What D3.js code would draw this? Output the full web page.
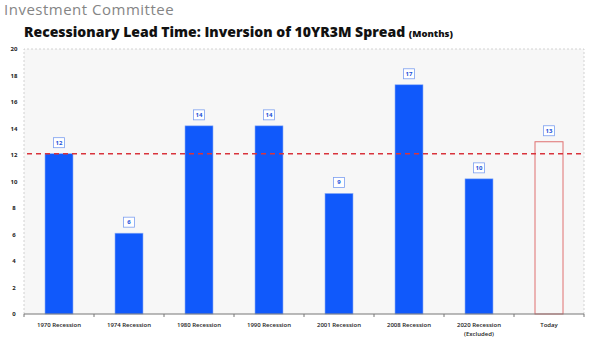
<!DOCTYPE html>
<html>
<head>
<meta charset="utf-8">
<script src="https://cdn.jsdelivr.net/npm/d3@7/dist/d3.min.js"></script>
<style>
  body { margin: 0; background: #fff; }
  svg { display: block; }
</style>
</head>
<body>
<svg id="chart" width="595" height="353"></svg>
<script>
// chart data
var categories = ["1970 Recession", "1974 Recession", "1980 Recession", "1990 Recession",
                  "2001 Recession", "2008 Recession", "2020 Recession\n(Excluded)", "Today"];
var leadMonths = [12.1, 6.1, 14.2, 14.2, 9.1, 17.3, 10.2, 13.0];
var boxLabels = ["12", "6", "14", "14", "9", "17", "10", "13"];
var yTicks = [0, 2, 4, 6, 8, 10, 12, 14, 16, 18, 20];
var averageLine = 12.1;

var svg = d3.select("#chart");
var plot = { left: 24, right: 584, top: 49, bottom: 314 };

// headers
svg.append("text")
    .attr("x", 4).attr("y", 15)
    .attr("font-family", "Open Sans")
    .attr("font-size", 15)
    .attr("letter-spacing", 0.5)
    .attr("fill", "#858585")
    .text("Investment Committee");

var title = svg.append("text")
    .attr("x", 24).attr("y", 37)
    .attr("font-family", "Open Sans")
    .attr("font-weight", 800)
    .attr("font-size", 14)
    .attr("fill", "#111");
title.append("tspan").text("Recessionary Lead Time: Inversion of 10YR3M Spread ");
title.append("tspan").attr("font-size", 9.5).text("(Months)");

var x = d3.scaleBand()
    .domain(categories)
    .range([plot.left, plot.right])
    .paddingInner(0.6)
    .paddingOuter(0.3);

var y = d3.scaleLinear()
    .domain([0, 20])
    .range([plot.bottom, plot.top]);

// plot background + dashed frame
svg.append("rect")
    .attr("x", plot.left).attr("y", plot.top)
    .attr("width", plot.right - plot.left)
    .attr("height", plot.bottom - plot.top)
    .attr("fill", "#f7f7f7");
svg.append("path")
    .attr("d", "M" + plot.left + "," + plot.bottom + "V" + plot.top + "H" + plot.right + "V" + plot.bottom)
    .attr("fill", "none")
    .attr("stroke", "#c8c8c8")
    .attr("stroke-width", 0.8)
    .attr("stroke-dasharray", "2,2");

// y axis labels
svg.append("g").selectAll("text")
    .data(yTicks)
    .join("text")
    .attr("x", 14)
    .attr("y", function(d) { return y(d) + 2; })
    .attr("text-anchor", "middle")
    .attr("font-family", "Open Sans")
    .attr("font-weight", 700)
    .attr("font-size", 6)
    .attr("fill", "#222")
    .text(function(d) { return d; });

// bars
var normal = categories.slice(0, 7);
svg.append("g").selectAll("rect")
    .data(categories)
    .join("rect")
    .attr("x", function(d) { return x(d); })
    .attr("y", function(d, i) { return y(leadMonths[i]); })
    .attr("width", x.bandwidth())
    .attr("height", function(d, i) { return y(0) - y(leadMonths[i]); })
    .attr("fill", function(d) { return normal.indexOf(d) >= 0 ? "#1059fb" : "none"; })
    .attr("stroke", function(d) { return normal.indexOf(d) >= 0 ? "#8fb0f5" : "#e07070"; })
    .attr("stroke-width", function(d) { return normal.indexOf(d) >= 0 ? 0.6 : 1; });

// average dashed line
svg.append("line")
    .attr("x1", plot.left + 3).attr("x2", plot.right - 3)
    .attr("y1", y(averageLine)).attr("y2", y(averageLine))
    .attr("stroke", "#d9343c")
    .attr("stroke-width", 1.4)
    .attr("stroke-dasharray", "5,4");

// value boxes
var labels = svg.append("g").selectAll("g")
    .data(categories)
    .join("g")
    .attr("transform", function(d, i) {
        return "translate(" + (x(d) + x.bandwidth() / 2) + "," + (y(leadMonths[i]) - 11) + ")";
    });
labels.append("rect")
    .attr("x", -5.5).attr("y", -5)
    .attr("width", 11).attr("height", 10)
    .attr("fill", "#fff")
    .attr("stroke", "#7c9ff0")
    .attr("stroke-width", 0.8);
labels.append("text")
    .attr("y", 2)
    .attr("text-anchor", "middle")
    .attr("font-family", "Open Sans")
    .attr("font-weight", 700)
    .attr("font-size", 6)
    .attr("fill", "#1a4fd8")
    .text(function(d, i) { return boxLabels[i]; });

// x axis
var xAxis = svg.append("g")
    .attr("transform", "translate(0," + plot.bottom + ")");
xAxis.append("line")
    .attr("x1", plot.left).attr("x2", plot.right)
    .attr("stroke", "#777").attr("stroke-width", 1);
var tickPos = d3.range(categories.length + 1).map(function(i) { return plot.left + i * x.step(); });
xAxis.selectAll(".tick")
    .data(tickPos)
    .join("line")
    .attr("class", "tick")
    .attr("x1", function(d) { return d; }).attr("x2", function(d) { return d; })
    .attr("y1", 0).attr("y2", 3)
    .attr("stroke", "#777");

xAxis.selectAll(".cat")
    .data(categories)
    .join("text")
    .attr("class", "cat")
    .attr("x", function(d) { return x(d) + x.bandwidth() / 2; })
    .attr("y", 13)
    .attr("text-anchor", "middle")
    .attr("font-family", "Open Sans")
    .attr("font-weight", 600)
    .attr("font-size", 6)
    .attr("fill", "#222")
    .each(function(d) {
        var t = d3.select(this);
        d.split("\n").forEach(function(part, k) {
            t.append("tspan")
                .attr("x", x(d) + x.bandwidth() / 2)
                .attr("dy", k === 0 ? 0 : 9)
                .text(part);
        });
    });
</script>
</body>
</html>
